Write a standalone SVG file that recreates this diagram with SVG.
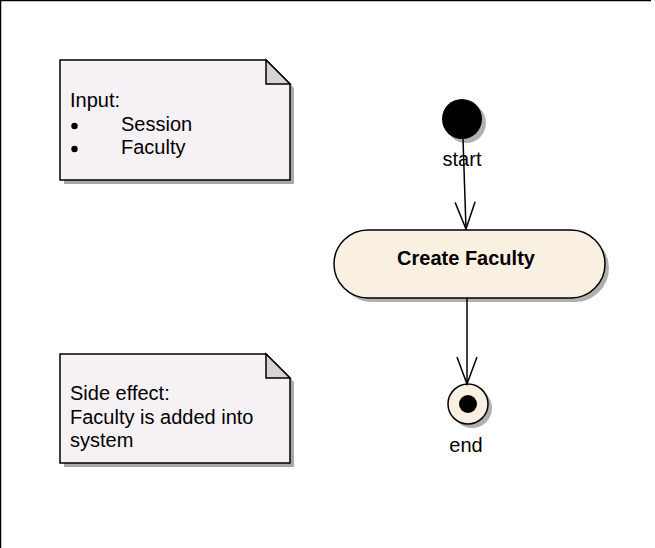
<svg xmlns="http://www.w3.org/2000/svg" width="655" height="548" viewBox="0 0 655 548">
  <style>
    .txt { font-family: "Liberation Sans", Arial, sans-serif; font-size: 20px; fill: #000; }
    .bold { font-weight: bold; }
    .note { fill: #F5F1F5; stroke: #000; stroke-width: 1.5; }
    .fold { fill: #D6D2D6; stroke: #000; stroke-width: 1.5; stroke-linejoin: miter; }
    .shadow { fill: #A8A8A8; }
    .edge { fill: none; stroke: #000; stroke-width: 1.5; }
  </style>
  <defs>
    <!-- open V arrowhead, pointing along the line direction -->
    <marker id="open" markerWidth="30" markerHeight="24" refX="28" refY="12" orient="auto" markerUnits="userSpaceOnUse" viewBox="0 0 30 24">
      <path d="M1,2 L28,12 L1,22" fill="none" stroke="#000" stroke-width="1.5"/>
    </marker>
  </defs>
  <rect width="655" height="548" fill="#fff"/>
  <!-- frame -->
  <path d="M0.5,548 V0.5 H651" fill="none" stroke="#000" stroke-width="1.5"/>

  <g id="note-input">
    <polygon class="shadow" points="64,64 270,64 294,88 294,184 64,184"/>
    <polygon class="note" points="60,60 266,60 290,84 290,180 60,180"/>
    <polygon class="fold" points="266,60 266,84 290,84"/>
    <text class="txt" x="70" y="107">Input:</text>
    <circle cx="74.5" cy="126" r="3.2"/>
    <circle cx="74.5" cy="149" r="3.2"/>
    <text class="txt" x="121" y="131">Session</text>
    <text class="txt" x="121" y="154">Faculty</text>
  </g>

  <g id="note-side-effect">
    <polygon class="shadow" points="64,358 270,358 294,382 294,467 64,467"/>
    <polygon class="note" points="60,354 266,354 290,378 290,463 60,463"/>
    <polygon class="fold" points="266,354 266,378 290,378"/>
    <text class="txt" x="70" y="400">Side effect:</text>
    <text class="txt" x="70" y="424">Faculty is added into</text>
    <text class="txt" x="70" y="447">system</text>
  </g>

  <g id="start">
    <circle cx="466" cy="123" r="20" fill="#B0B0B0"/>
    <circle cx="462" cy="119" r="20" fill="#000"/>
    <text class="txt" x="462" y="166" text-anchor="middle">start</text>
  </g>

  <g id="create-faculty">
    <rect x="338" y="234" width="271" height="68" rx="34" ry="34" fill="#B0B0B0"/>
    <rect x="334" y="230" width="271" height="68" rx="34" ry="34" fill="#FAF0E2" stroke="#000" stroke-width="1.5"/>
    <text class="txt bold" x="466" y="265" text-anchor="middle">Create Faculty</text>
  </g>

  <g id="end">
    <circle cx="472" cy="408" r="20" fill="#B0B0B0"/>
    <circle cx="468" cy="404" r="20" fill="#FAF0E2" stroke="#000" stroke-width="1.5"/>
    <circle cx="468" cy="404" r="9" fill="#000"/>
    <text class="txt" x="466" y="452" text-anchor="middle">end</text>
  </g>

  <g id="connectors">
    <line class="edge" x1="463" y1="139" x2="466" y2="229" marker-end="url(#open)"/>
    <line class="edge" x1="467" y1="298" x2="467" y2="384" marker-end="url(#open)"/>
  </g>
</svg>
